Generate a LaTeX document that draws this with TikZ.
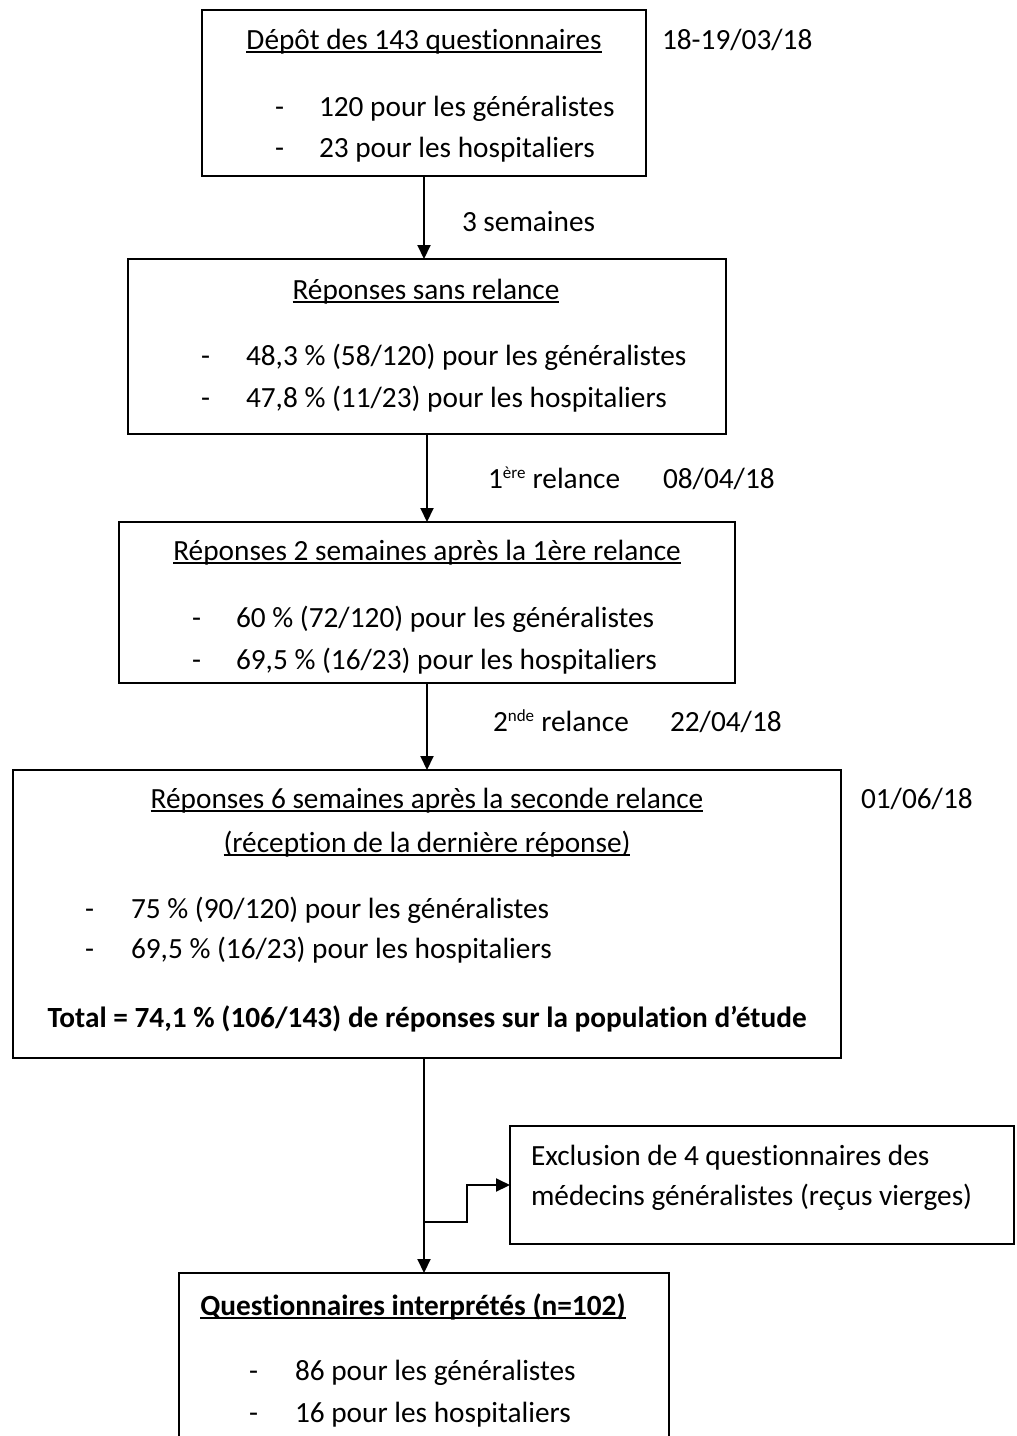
\documentclass[tikz,border=0pt]{standalone}
\usepackage{fontspec}
\setmainfont{Carlito}[Ligatures=CommonOff]
\usetikzlibrary{arrows.meta}
\newcommand\ulin[1]{\setbox0\hbox{#1}\rlap{\rule[-0.13em]{\wd0}{0.065em}}\box0}
\newcommand\supx[1]{\textsuperscript{\fontsize{17}{17}\selectfont #1}}
\begin{document}
\begin{tikzpicture}[x=1pt,y=-1pt,
  every node/.style={font=\fontsize{29.3}{41}\selectfont},
  box/.style={draw=black,line width=2pt,inner sep=0pt,outer sep=0pt,anchor=north west},
  txt/.style={inner sep=0pt,outer sep=0pt,anchor=base west},
  ctxt/.style={inner sep=0pt,outer sep=0pt,anchor=base},
  arr/.style={line width=2pt,-{Triangle[width=13pt,length=14pt]}}]
\useasboundingbox[fill=white] (0,0) rectangle (1017,1436);
% boxes
\node[box,minimum width=444pt,minimum height=166pt] (b1) at (202,10) {};
\node[box,minimum width=598pt,minimum height=175pt] (b2) at (128,259) {};
\node[box,minimum width=616pt,minimum height=161pt] (b3) at (119,522) {};
\node[box,minimum width=828pt,minimum height=288pt] (b4) at (13,770) {};
\node[box,minimum width=504pt,minimum height=118pt] (b5) at (510,1126) {};
\node[box,minimum width=490pt,minimum height=200pt] (b6) at (179,1273) {};
% box 1
\node[ctxt] (t1) at (424,49) {\ulin{Dépôt des 143 questionnaires}};
\node[txt] (t1a) at (275,116) {-};
\node[txt] (t1b) at (319,116) {120 pour les généralistes};
\node[txt] (t1c) at (275,157) {-};
\node[txt] (t1d) at (319,157) {23 pour les hospitaliers};
\node[txt] (d1) at (662,49) {18-19/03/18};
\node[txt] (l1) at (462,231) {3 semaines};
% box 2
\node[ctxt] (t2) at (426,299) {\ulin{Réponses sans relance}};
\node[txt] (t2a) at (201,365) {-};
\node[txt] (t2b) at (246,365) {48,3 \% (58/120) pour les généralistes};
\node[txt] (t2c) at (201,407) {-};
\node[txt] (t2d) at (246,407) {47,8 \% (11/23) pour les hospitaliers};
\node[txt] (l2) at (488,488) {1\supx{ère} relance};
\node[txt] (d2) at (663,488) {08/04/18};
% box 3
\node[ctxt] (t3) at (427,560) {\ulin{Réponses 2 semaines après la 1ère relance}};
\node[txt] (t3a) at (192,627) {-};
\node[txt] (t3b) at (236,627) {60 \% (72/120) pour les généralistes};
\node[txt] (t3c) at (192,669) {-};
\node[txt] (t3d) at (236,669) {69,5 \% (16/23) pour les hospitaliers};
\node[txt] (l3) at (493,731) {2\supx{nde} relance};
\node[txt] (d3) at (670,731) {22/04/18};
% box 4
\node[ctxt] (t4) at (427,808) {\ulin{Réponses 6 semaines après la seconde relance}};
\node[ctxt] (t4x) at (427,852) {\ulin{(réception de la dernière réponse)}};
\node[txt] (t4a) at (85,918) {-};
\node[txt] (t4b) at (131,918) {75 \% (90/120) pour les généralistes};
\node[txt] (t4c) at (85,958) {-};
\node[txt] (t4d) at (131,958) {69,5 \% (16/23) pour les hospitaliers};
\node[ctxt] (t4t) at (427,1027) {\bfseries Total = 74,1 \% (106/143) de réponses sur la population d’étude};
\node[txt] (d4) at (861,808) {01/06/18};
% box 5
\node[txt] (t5a) at (531,1165) {Exclusion de 4 questionnaires des};
\node[txt] (t5b) at (531,1205) {médecins généralistes (reçus vierges)};
% box 6
\node[ctxt] (t6) at (413,1315) {\bfseries\ulin{Questionnaires interprétés (n=102)}};
\node[txt] (t6a) at (249,1380) {-};
\node[txt] (t6b) at (295,1380) {86 pour les généralistes};
\node[txt] (t6c) at (249,1422) {-};
\node[txt] (t6d) at (295,1422) {16 pour les hospitaliers};
% connectors
\draw[arr] (b1.south) -- (b1.south |- b2.north);
\draw[arr] (b2.south) -- (b2.south |- b3.north);
\draw[arr] (b3.south) -- (b3.south |- b4.north);
\coordinate (s4) at (b6.north |- b4.south);
\draw[arr] (s4) -- (b6.north);
\coordinate (j1) at (b6.north |- 0,1222);
\coordinate (k1) at (467,1185);
\draw[arr] (j1) -| (k1) -- (b5.west);
\end{tikzpicture}
\end{document}
